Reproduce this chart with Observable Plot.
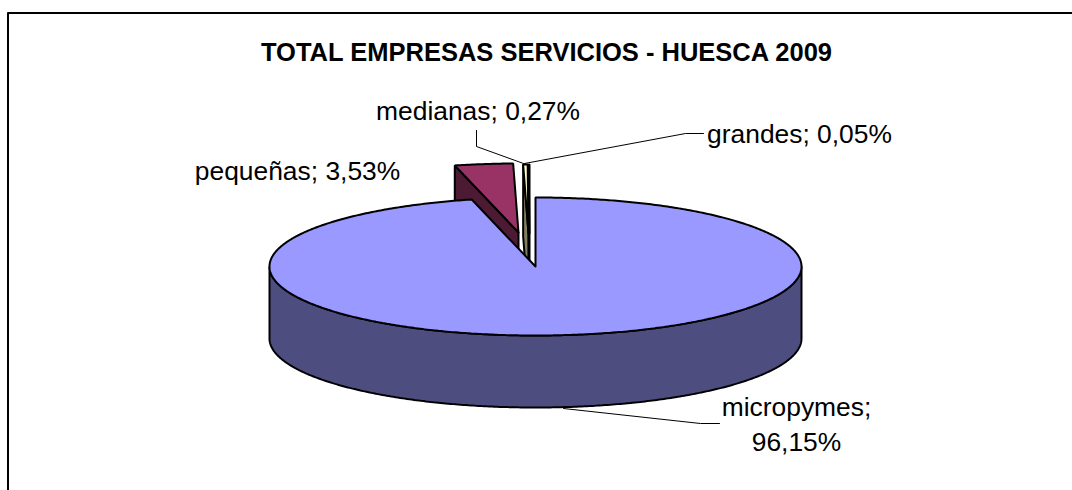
<!DOCTYPE html>
<html><head><meta charset="utf-8">
<style>html,body{margin:0;padding:0;background:#fff}svg{display:block}</style>
<script src="https://cdn.jsdelivr.net/npm/d3@7"></script>
<script src="https://cdn.jsdelivr.net/npm/@observablehq/plot@0.6"></script>
</head><body><div id="chart"></div>
<script>
const title = "TOTAL EMPRESAS SERVICIOS - HUESCA 2009";
const categories = ["micropymes", "pequeñas", "medianas", "grandes"];
const shares = [96.15, 3.53, 0.27, 0.05];
const shareLabels = ["96,15%", "3,53%", "0,27%", "0,05%"];

// Layout of the tilted pie
const W = 1072, H = 490, FONT = "'Liberation Sans', Arial, sans-serif";
const cx = 535, cy = 266, rx = 266, ry = 69, depth = 72;
const topColors = ["#9999FF", "#993366", "#FFFFCC", "#CCFFFF"];
const wallColors = ["#4D4D80", "#4D1A33", "#80805F", "#668080"];
const explode = [[0, 0], [-17, -34], [-7, -33], [-6, -33]];

const total = d3.sum(shares);
let acc = 0;
const slices = categories.map((name, i) => {
  const a0 = acc / total * 2 * Math.PI; acc += shares[i];
  const a1 = acc / total * 2 * Math.PI;
  return {name, i, a0, a1, ox: cx + explode[i][0], oy: cy + explode[i][1]};
});
const rim = (s, a, dy = 0) => [s.ox + rx * Math.sin(a), s.oy - ry * Math.cos(a) + dy];
const arc = (s, a0, a1, dy = 0) => {
  const n = Math.max(2, Math.ceil(Math.abs(a1 - a0) / 0.01));
  return d3.range(n + 1).map(k => rim(s, a0 + (a1 - a0) * k / n, dy));
};
const topFace = s => [[s.ox, s.oy], ...arc(s, s.a0, s.a1), [s.ox, s.oy]];
const cutFace = s => [[s.ox, s.oy], rim(s, s.a0), rim(s, s.a0, depth), [s.ox, s.oy + depth], [s.ox, s.oy]];
const frontWall = s => [...arc(s, Math.PI / 2, 3 * Math.PI / 2), ...arc(s, 3 * Math.PI / 2, Math.PI / 2, depth), rim(s, Math.PI / 2)];

const poly = (pts, fill) => Plot.line(pts, {x: d => d[0], y: d => d[1], fill, stroke: "#000", strokeWidth: 2, strokeLinejoin: "miter", curve: "linear"});
const leader = pts => Plot.line(pts, {x: d => d[0], y: d => d[1], stroke: "#000", strokeWidth: 1, curve: "linear"});
const [micro, peq, med, gra] = slices;

const labelText = i => `${categories[i]}; ${shareLabels[i]}`;
const labels = [
  {t: labelText(1), x: 297, y: 171, a: "middle"},
  {t: labelText(2), x: 477.5, y: 111, a: "middle"},
  {t: labelText(3), x: 799, y: 134, a: "middle"},
  {t: categories[0] + ";", x: 796, y: 407, a: "middle"},
  {t: shareLabels[0], x: 796, y: 442, a: "middle"}
];

const plot = Plot.plot({
  width: W, height: H, margin: 0,
  style: {background: "#fff", fontFamily: FONT},
  x: {domain: [0, W], range: [0, W], axis: null},
  y: {domain: [0, H], range: [0, H], axis: null},
  marks: [
    // chart frame (open at right and bottom, as cropped)
    Plot.line([[7.5, H], [7.5, 12.5], [W, 12.5]], {x: d => d[0], y: d => d[1], stroke: "#000", strokeWidth: 2}),
    // exploded slices, back to front
    poly(cutFace(peq), wallColors[1]), poly(topFace(peq), topColors[1]),
    poly(cutFace(med), wallColors[2]), poly(topFace(med), topColors[2]),
    poly(cutFace(gra), wallColors[3]), poly(topFace(gra), topColors[3]),
    // main slice
    poly(frontWall(micro), wallColors[0]),
    poly(topFace(micro), topColors[0]),
    // leaders
    leader([[476, 130], [476, 146], [523, 163]]),
    leader([[703, 133], [685, 133], [524, 163]]),
    leader([[563, 408], [700, 423], [719, 423]]),
    // text
    Plot.text([title], {x: () => 546, y: () => 52, text: d => d, fontSize: 25.5, fontWeight: "bold", fill: "#000", fontFamily: FONT}),
    Plot.text(labels, {x: "x", y: "y", text: "t", textAnchor: "a", fontSize: 26.4, fill: "#000", fontFamily: FONT})
  ]
});
document.getElementById("chart").append(plot);
</script></body></html>
